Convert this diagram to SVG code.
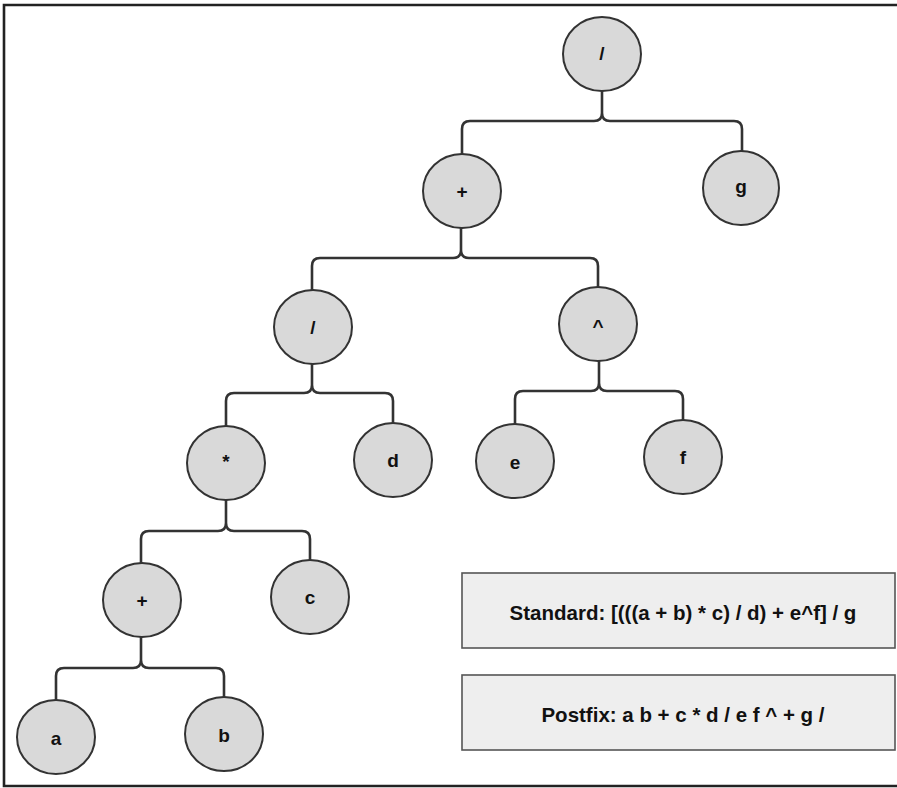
<svg xmlns="http://www.w3.org/2000/svg" width="897" height="788" viewBox="0 0 897 788">
<style>
.n ellipse{fill:#d9d9d9;stroke:#333;stroke-width:2}
.n text{font-family:"Liberation Sans",Arial,sans-serif;font-weight:bold;font-size:19px;fill:#111;text-anchor:middle;dominant-baseline:central}
.c path{fill:none;stroke:#333;stroke-width:2.6}
.box rect{fill:#eeeeee;stroke:#555;stroke-width:1.6}
.box text{font-family:"Liberation Sans",Arial,sans-serif;font-weight:bold;font-size:20.5px;fill:#111;text-anchor:middle;dominant-baseline:central}
</style>
<rect width="897" height="788" fill="#ffffff"/>
<path d="M897,5 H4 V786 H897" fill="none" stroke="#222" stroke-width="2.6"/>
<g class="c" id="connectors">
<path d="M602,91 V113 Q602,121 594,121 H470 Q462,121 462,129 V154 M602,113 Q602,121 610,121 H734 Q742,121 742,129 V151"/>
<path d="M461,228 V250 Q461,258 453,258 H320 Q312,258 312,266 V290 M461,250 Q461,258 469,258 H590 Q598,258 598,266 V287"/>
<path d="M312,364 V385 Q312,393 304,393 H234 Q226,393 226,401 V426 M312,385 Q312,393 320,393 H385 Q393,393 393,401 V423"/>
<path d="M599,361 V383 Q599,391 591,391 H523 Q515,391 515,399 V424 M599,383 Q599,391 607,391 H675 Q683,391 683,399 V420"/>
<path d="M226,500 V523 Q226,531 218,531 H149 Q141,531 141,539 V563 M226,523 Q226,531 234,531 H302 Q310,531 310,539 V560"/>
<path d="M141,637 V660 Q141,668 133,668 H64 Q56,668 56,676 V700 M141,660 Q141,668 149,668 H216 Q224,668 224,676 V697"/>
</g>
<g class="n" id="root"><ellipse cx="602" cy="54" rx="39" ry="37"/><text x="602" y="53">/</text></g>
<g class="n" id="plus1"><ellipse cx="462" cy="191" rx="39" ry="37"/><text x="462" y="191">+</text></g>
<g class="n" id="g"><ellipse cx="741" cy="188" rx="38" ry="37"/><text x="741" y="186">g</text></g>
<g class="n" id="div2"><ellipse cx="313" cy="327" rx="39" ry="37"/><text x="313" y="327">/</text></g>
<g class="n" id="pow"><ellipse cx="598" cy="324" rx="39" ry="37"/><text x="598" y="326">^</text></g>
<g class="n" id="mul"><ellipse cx="226" cy="463" rx="39" ry="37"/><text x="226" y="461">*</text></g>
<g class="n" id="d"><ellipse cx="393" cy="460" rx="39" ry="37"/><text x="393" y="460">d</text></g>
<g class="n" id="e"><ellipse cx="515" cy="461" rx="39" ry="37"/><text x="515" y="462">e</text></g>
<g class="n" id="f"><ellipse cx="683" cy="457" rx="39" ry="37"/><text x="683" y="457">f</text></g>
<g class="n" id="plus2"><ellipse cx="142" cy="600" rx="39" ry="37"/><text x="142" y="600">+</text></g>
<g class="n" id="c"><ellipse cx="310" cy="597" rx="39" ry="37"/><text x="310" y="597">c</text></g>
<g class="n" id="a"><ellipse cx="56" cy="737" rx="39" ry="37"/><text x="56" y="738">a</text></g>
<g class="n" id="b"><ellipse cx="224" cy="734" rx="39" ry="37"/><text x="224" y="735">b</text></g>
<g class="box" id="standard"><rect x="462" y="573" width="433" height="75"/><text x="683" y="612">Standard: [(((a + b) * c) / d) + e^f] / g</text></g>
<g class="box" id="postfix"><rect x="462" y="675" width="433" height="75"/><text x="683" y="714">Postfix: a b + c * d / e f ^ + g /</text></g>
</svg>
